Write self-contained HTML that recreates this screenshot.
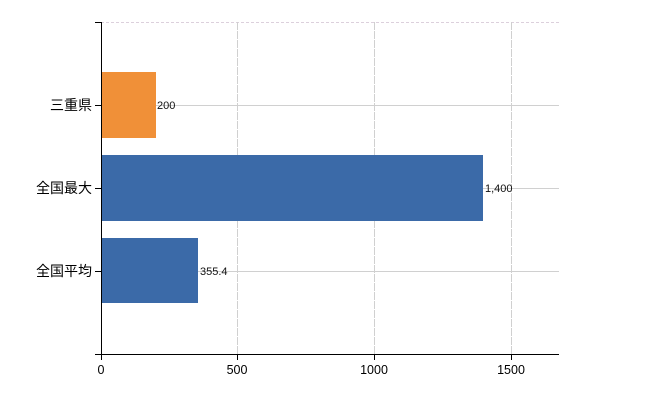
<!DOCTYPE html>
<html><head><meta charset="utf-8"><style>body{margin:0;background:#fff}</style></head><body>
<svg width="650" height="400" xmlns="http://www.w3.org/2000/svg" font-family="'Liberation Sans','Noto Sans CJK JP',sans-serif">
<g stroke="#d0d0d0" stroke-width="1">
<line x1="101" y1="22.5" x2="559" y2="22.5" stroke="#dcd0dc" stroke-dasharray="3,2"/>
<line x1="101" y1="105.5" x2="559" y2="105.5"/>
<line x1="101" y1="188.5" x2="559" y2="188.5"/>
<line x1="101" y1="271.5" x2="559" y2="271.5"/>
<line x1="237.5" y1="22" x2="237.5" y2="354" stroke-dasharray="8,1"/>
<line x1="374.5" y1="22" x2="374.5" y2="354" stroke-dasharray="8,1"/>
<line x1="511.5" y1="22" x2="511.5" y2="354" stroke-dasharray="8,1"/>
</g>
<rect x="102" y="72" width="54" height="66" fill="#f09038"/>
<rect x="102" y="155" width="381" height="66" fill="#3b6aa8"/>
<rect x="102" y="238" width="96" height="65" fill="#3b6aa8"/>
<g stroke="#000" stroke-width="1">
<line x1="101.5" y1="22" x2="101.5" y2="354"/>
<line x1="95" y1="354.5" x2="559" y2="354.5"/>
<line x1="95" y1="22.5" x2="101" y2="22.5"/>
<line x1="95" y1="105.5" x2="101" y2="105.5"/>
<line x1="95" y1="188.5" x2="101" y2="188.5"/>
<line x1="95" y1="271.5" x2="101" y2="271.5"/>
<line x1="101.5" y1="354" x2="101.5" y2="360"/>
<line x1="237.5" y1="354" x2="237.5" y2="360"/>
<line x1="374.5" y1="354" x2="374.5" y2="360"/>
<line x1="511.5" y1="354" x2="511.5" y2="360"/>
</g>
<g font-size="14" text-anchor="end" fill="#000">
<text x="92" y="110">三重県</text>
<text x="92" y="193">全国最大</text>
<text x="92" y="276">全国平均</text>
</g>
<g font-size="12.5" text-anchor="middle" fill="#000">
<text x="101" y="374">0</text>
<text x="237" y="374">500</text>
<text x="374" y="374">1000</text>
<text x="511" y="374">1500</text>
</g>
<g font-size="11" fill="#111">
<text x="157" y="109">200</text>
<text x="485" y="192">1,400</text>
<text x="200" y="275">355.4</text>
</g>
</svg>
</body></html>
